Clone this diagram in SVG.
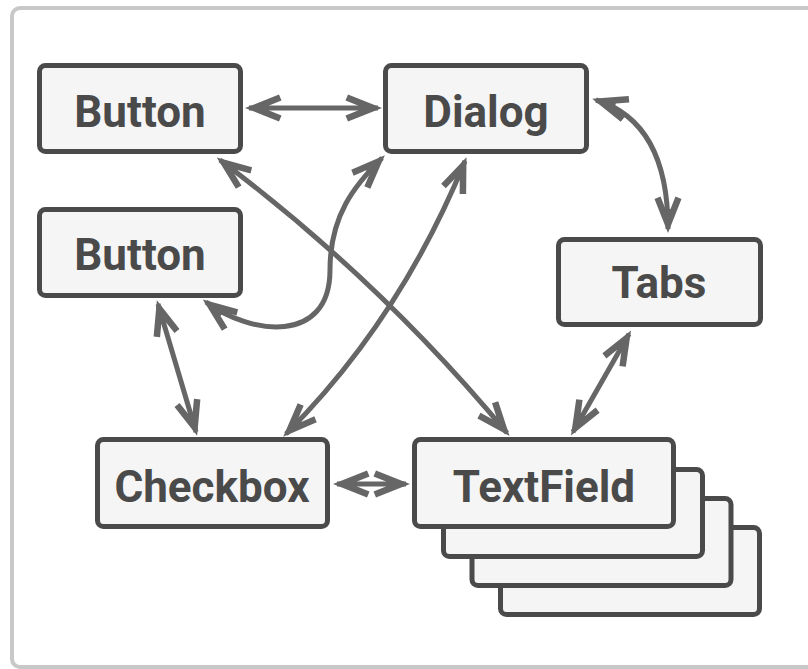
<svg xmlns="http://www.w3.org/2000/svg" width="808" height="669" viewBox="0 0 808 669">
<style>
.node{fill:#f5f5f5;stroke:#4a4a4a;stroke-width:5}
.lbl{font-family:Roboto,"Liberation Sans",sans-serif;font-weight:700;font-size:44px;fill:#4a4a4a;text-anchor:middle}
.con{fill:none;stroke:#666666;stroke-width:5;marker-start:url(#ah);marker-end:url(#ah)}
</style>
<defs>
<marker id="ah" markerUnits="userSpaceOnUse" orient="auto-start-reverse" refX="0" refY="0" markerWidth="60" markerHeight="40" viewBox="-40 -20 60 40" overflow="visible">
<polygon points="4,0 -30,-13.5 -32.5,-7.5 -20,-2.5 -20,2.5 -32.5,7.5 -30,13.5" fill="#666666"/>
</marker>
</defs>
<rect x="0" y="0" width="808" height="669" fill="#ffffff"/>
<rect x="12" y="8" width="830" height="659" rx="8" fill="#ffffff" stroke="#c8c8c8" stroke-width="4"/>
<g id="connectors">
<path class="con" d="M249,108 L378,108"/>
<path class="con" d="M596,100 C648,116 668,165 668,229"/>
<path class="con" d="M220,160 Q380,280 507,433"/>
<path class="con" d="M206,302 C250,335 330,345 330,270 C330,215 355,185 382,158"/>
<path class="con" d="M158,304 L196,432"/>
<path class="con" d="M286,434 Q400,320 465,161"/>
<path class="con" d="M629,334 L573,432"/>
<path class="con" d="M337,484 L406,484"/>
</g>
<g id="button1">
<rect class="node" x="39.5" y="65.5" width="201" height="86" rx="6"/>
<text class="lbl" x="140" y="127">Button</text>
</g>
<g id="button2">
<rect class="node" x="39.5" y="209.5" width="201" height="86" rx="6"/>
<text class="lbl" x="140" y="270">Button</text>
</g>
<g id="dialog">
<rect class="node" x="385.5" y="65.5" width="201" height="86" rx="6"/>
<text class="lbl" x="486" y="127">Dialog</text>
</g>
<g id="tabs">
<rect class="node" x="558.5" y="239.5" width="202" height="85" rx="6"/>
<text class="lbl" x="659" y="298">Tabs</text>
</g>
<g id="checkbox">
<rect class="node" x="97.5" y="439.5" width="230" height="87" rx="6"/>
<text class="lbl" x="212" y="502">Checkbox</text>
</g>
<g id="textfield">
<rect class="node" x="500.5" y="527.5" width="259" height="87" rx="6"/>
<rect class="node" x="472" y="498.5" width="259" height="87" rx="6"/>
<rect class="node" x="443.5" y="469.5" width="259" height="87" rx="6"/>
<rect class="node" x="414.5" y="439.5" width="259" height="87" rx="6"/>
<text class="lbl" x="544" y="502">TextField</text>
</g>
</svg>
